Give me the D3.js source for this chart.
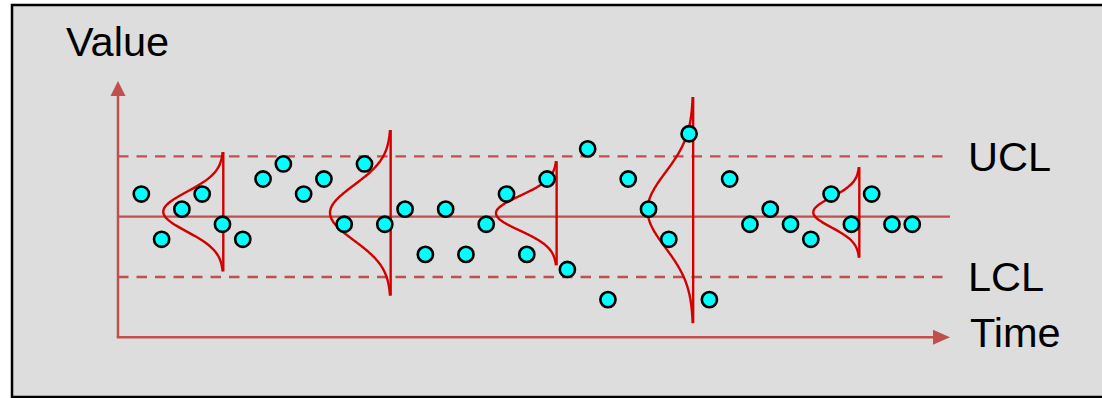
<!DOCTYPE html>
<html>
<head>
<meta charset="utf-8">
<script src="https://cdn.jsdelivr.net/npm/d3@7"></script>
<style>
  body { margin: 0; background: white; }
  text { font-family: "Liberation Sans", Arial, sans-serif; }
</style>
</head>
<body>
<div id="visualization"></div>
<script>
let w = 1102;
let h = 398;

// sample number along the time axis
let samples = [1,2,3,4,5,6,7,8,9,10,11,12,13,14,15,16,17,18,19,20,
               21,22,23,24,25,26,27,28,29,30,31,32,33,34,35,36,37,38,39];
// measured value of each sample (centre line = 0)
let values = [1.5,-1.5,0.5,1.5,-0.5,-1.5,2.5,3.5,1.5,2.5,-0.5,3.5,-0.5,0.5,-2.5,0.5,-2.5,-0.5,1.5,-2.5,
              2.5,-3.5,4.5,-5.5,2.5,0.5,-1.5,5.5,-5.5,2.5,-0.5,0.5,-0.5,-1.5,1.5,-0.5,1.5,-0.5,-0.5];

// control limits
let centerLine = 0;
let ucl = 4;
let lcl = -4;

// sideways distributions: where they sit, their mean, spread and peak height (in samples)
let distAt = [5.04, 13.29, 21.47, 28.2, 36.39];
let distMean = [0.33, 0.26, 0.23, 0.44, 0.29];
let distSigma = [1.32, 1.83, 1.15, 2.5, 1.0];
let distPeak = [2.96, 2.99, 2.99, 2.25, 2.27];

let axisColor = "#c0504d";
let curveColor = "#d40000";

let viz = d3.select("#visualization")
  .append("svg")
    .attr("width", w)
    .attr("height", h)
;

// grey panel with black frame
viz.append("rect")
  .attr("x", 12)
  .attr("y", 5)
  .attr("width", w + 10)
  .attr("height", 392)
  .attr("fill", "#dddddd")
  .attr("stroke", "black")
  .attr("stroke-width", 2.5)
;

// scales
let xScale = d3.scaleLinear().domain([-0.15, 40.86]).range([118, 950]);
let yScale = d3.scaleLinear().domain([-8, 9]).range([337.3, 81]);

let x0 = xScale(-0.15);
let x1 = xScale(40.86);
let yBottom = yScale(-8);
let yTop = yScale(9);

// control lines
viz.selectAll(".limit").data([ucl, lcl]).enter()
  .append("line")
    .attr("class", "limit")
    .attr("x1", x0)
    .attr("x2", x1)
    .attr("y1", d => yScale(d))
    .attr("y2", d => yScale(d))
    .attr("stroke", axisColor)
    .attr("stroke-width", 2.3)
    .attr("stroke-dasharray", "10.5,8")
;

viz.append("line")
  .attr("x1", x0)
  .attr("x2", x1)
  .attr("y1", yScale(centerLine))
  .attr("y2", yScale(centerLine))
  .attr("stroke", axisColor)
  .attr("stroke-width", 2.2)
;

// axes with arrow heads
viz.append("line")
  .attr("x1", x0).attr("y1", yBottom)
  .attr("x2", x0).attr("y2", yTop + 12)
  .attr("stroke", axisColor)
  .attr("stroke-width", 2.5)
;
viz.append("path")
  .attr("d", "M" + x0 + "," + yTop + "L" + (x0 - 7.5) + "," + (yTop + 15) + "L" + (x0 + 7.5) + "," + (yTop + 15) + "Z")
  .attr("fill", axisColor)
;
viz.append("line")
  .attr("x1", x0 - 1.2).attr("y1", yBottom)
  .attr("x2", x1 - 12).attr("y2", yBottom)
  .attr("stroke", axisColor)
  .attr("stroke-width", 2.5)
;
viz.append("path")
  .attr("d", "M" + x1 + "," + yBottom + "L" + (x1 - 17) + "," + (yBottom - 7.5) + "L" + (x1 - 17) + "," + (yBottom + 7.5) + "Z")
  .attr("fill", axisColor)
;

// distribution curves drawn sideways
let dists = distAt.map(function(d, i){
  return {at: d, mean: distMean[i], sigma: distSigma[i], peak: distPeak[i]};
});

let curveLine = d3.line()
  .x(d => d[0])
  .y(d => d[1])
  .curve(d3.curveBasis)
;

dists.forEach(function(d){
  let lo = d.mean - 3 * d.sigma;
  let hi = d.mean + 3 * d.sigma;
  let pts = d3.range(0, 121).map(function(k){
    let v = lo + (hi - lo) * k / 120;
    let z = (v - d.mean) / d.sigma;
    let off = d.peak * Math.exp(-z * z / 2);
    return [xScale(d.at - off), yScale(v)];
  });
  viz.append("path")
    .attr("d", curveLine(pts))
    .attr("fill", "none")
    .attr("stroke", curveColor)
    .attr("stroke-width", 2.4)
  ;
  viz.append("line")
    .attr("x1", xScale(d.at)).attr("x2", xScale(d.at))
    .attr("y1", yScale(hi)).attr("y2", yScale(lo))
    .attr("stroke", curveColor)
    .attr("stroke-width", 2.4)
  ;
});

// data points
viz.selectAll(".datapoint").data(values).enter()
  .append("circle")
    .attr("class", "datapoint")
    .attr("cx", (d, i) => xScale(samples[i]))
    .attr("cy", d => yScale(d))
    .attr("r", 7.6)
    .attr("fill", "#00ffff")
    .attr("stroke", "black")
    .attr("stroke-width", 2.6)
;

// labels
let labels = [
  {t: "Value", x: 66, y: 55.5},
  {t: "UCL", x: 968, y: yScale(ucl) + 15},
  {t: "LCL", x: 968, y: yScale(lcl) + 14.5},
  {t: "Time", x: 970, y: yBottom + 10}
];
viz.selectAll(".label").data(labels).enter()
  .append("text")
    .attr("class", "label")
    .attr("x", d => d.x)
    .attr("y", d => d.y)
    .attr("font-size", 41.5)
    .attr("fill", "black")
    .text(d => d.t)
;
</script>
</body>
</html>
